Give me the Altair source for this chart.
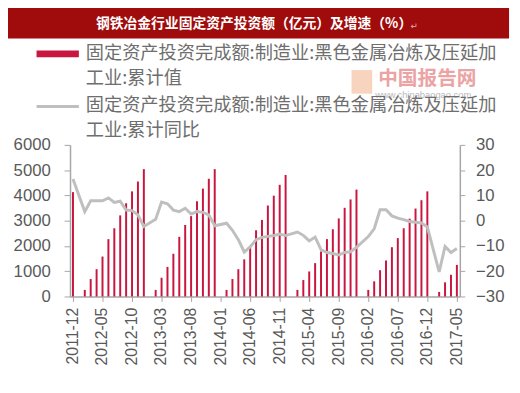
import altair as alt
import pandas as pd

# ---------------- data ----------------
years = [2012, 2013, 2014, 2015, 2016]
months = ["2011-12"] + [f"{y}-{m:02d}" for y in years for m in range(1, 13)] + [f"2017-{m:02d}" for m in range(1, 6)]

tick_labels = ["2011-12", "2012-05", "2012-10", "2013-03", "2013-08", "2014-01", "2014-06",
               "2014-11", "2015-04", "2015-09", "2016-02", "2016-07", "2016-12", "2017-05"]

# 累计值 (亿元); January not published
invest = [4130,
          None, 260, 690, 1080, 1580, 2270, 2700, 3210, 3690, 4160, 4550, 5040,
          None, 260, 740, 1170, 1690, 2360, 2830, 3180, 3770, 4270, 4660, 5040,
          None, 260, 690, 1080, 1470, 1990, 2620, 3030, 3600, 3990, 4420, 4810,
          None, 260, 650, 990, 1320, 1780, 2270, 2660, 3090, 3510, 3840, 4230,
          None, 260, 600, 1040, 1420, 1950, 2310, 2700, 3080, 3480, 3810, 4160,
          None, 180, 560, 860, 1250]

# 累计同比 (%)
yoy = [16.5,
       None, 3.6, 7.9, 7.9, 7.9, 9.0, 7.2, 7.7, 4.2, 4.0, 2.3, -2.3,
       None, 0.6, 7.4, 6.7, 4.2, 3.6, 4.9, 2.6, 3.6, 3.3, 2.3, -2.0,
       None, -1.0, -3.8, -7.5, -12.4, -10.4, -7.5, -6.6, -6.2, -5.9, -5.3, -5.9,
       None, -4.5, -5.8, -8.0, -6.5, -11.5, -12.6, -13.0, -13.6, -12.6, -12.3, -10.6,
       None, -6.3, -3.2, 4.3, 4.3, 1.9, 1.0, 0.4, -0.3, -0.6, -0.9, -2.5,
       None, -20.3, -10.2, -12.6, -11.0]

title_text = "钢铁冶金行业固定资产投资额（亿元）及增速（%）"
legend_bar = ["固定资产投资完成额:制造业:黑色金属冶炼及压延加", "工业:累计值"]
legend_line = ["固定资产投资完成额:制造业:黑色金属冶炼及压延加", "工业:累计同比"]

df = pd.DataFrame({"month": months, "value": invest, "yoy": yoy})

# ---------------- layout ----------------
W, H = 396, 154
PL, PT = 63, 136
PR = 520 - 8 - PL - W
PB = 393 - 8 - PT - H

AX_COLOR = "#A6A6A6"
LBL_COLOR = "#595959"
BAR_COLOR = "#C8163F"
LINE_COLOR = "#BFBFBF"
CJK = "Noto Sans CJK SC"

x_enc = alt.X("month:O",
              scale=alt.Scale(domain=months, paddingInner=0, paddingOuter=0),
              sort=months,
              axis=alt.Axis(values=tick_labels, labelAngle=-90, title=None,
                            labelFont="Liberation Sans", labelFontSize=16, labelColor=LBL_COLOR,
                            domainColor=AX_COLOR, tickColor=AX_COLOR, tickSize=5,
                            labelPadding=6, grid=False, domainWidth=1.5))

bars = alt.Chart(df).transform_filter("isValid(datum.value)").mark_bar(
    size=2, color=BAR_COLOR).encode(
    x=x_enc,
    y=alt.Y("value:Q",
            scale=alt.Scale(domain=[0, 6000], nice=False),
            axis=alt.Axis(orient="left", values=[0, 1000, 2000, 3000, 4000, 5000, 6000],
                          format="d", title=None, grid=False, labelFont="Liberation Sans",
                          labelFontSize=17, labelColor=LBL_COLOR, domainColor=AX_COLOR,
                          tickColor=AX_COLOR, tickSize=6, labelPadding=14, domainWidth=1.5)))

line = alt.Chart(df).transform_filter("isValid(datum.yoy)").mark_line(
    color=LINE_COLOR, strokeWidth=3).encode(
    x=x_enc,
    y=alt.Y("yoy:Q",
            scale=alt.Scale(domain=[-30, 30], nice=False),
            axis=alt.Axis(orient="right", values=[-30, -20, -10, 0, 10, 20, 30],
                          format="d", title=None, grid=False, labelFont="Liberation Sans",
                          labelFontSize=17, labelColor=LBL_COLOR, domainColor=AX_COLOR,
                          tickColor=AX_COLOR, tickSize=5, labelPadding=11, domainWidth=1.5)))

one = pd.DataFrame({"k": [0]})

def px(page_x):
    return page_x - 8 - PL

def py(page_y):
    return page_y - 8 - PT

banner = alt.Chart(one).mark_rect(color="#A00C0C").encode(
    x=alt.value(px(3)), x2=alt.value(px(517)), y=alt.value(py(3)), y2=alt.value(py(36)))

title = alt.Chart(pd.DataFrame({"t": [title_text]})).mark_text(
    font=CJK, fontSize=14, fontWeight="bold", color="white", align="center", baseline="middle"
).encode(x=alt.value(px(258)), y=alt.value(py(21)), text="t:N")

retmark = alt.Chart(pd.DataFrame({"t": ["↵"]})).mark_text(
    font="DejaVu Sans", fontSize=9, color="#E3A9A9", align="left", baseline="middle"
).encode(x=alt.value(px(417)), y=alt.value(py(23)), text="t:N")

# watermark
logo = alt.Chart(one).mark_rect(color="#F0A070", opacity=0.45).encode(
    x=alt.value(px(357)), x2=alt.value(px(378)), y=alt.value(py(68)), y2=alt.value(py(92)))
wm1 = alt.Chart(pd.DataFrame({"t": ["中国报告网"]})).mark_text(
    font=CJK, fontSize=20, fontWeight="bold", color="#EBA3A3", align="left", baseline="middle"
).encode(x=alt.value(px(384)), y=alt.value(py(77)), text="t:N")
wm2 = alt.Chart(pd.DataFrame({"t": ["www.chinabaogao.com"]})).mark_text(
    font="Liberation Sans", fontSize=9.5, color="#B8B8B8", align="left", baseline="middle"
).encode(x=alt.value(px(381)), y=alt.value(py(93)), text="t:N")

# legend
leg_rect = alt.Chart(one).mark_rect(color=BAR_COLOR).encode(
    x=alt.value(px(37)), x2=alt.value(px(80)), y=alt.value(py(48)), y2=alt.value(py(55)))
leg_line = alt.Chart(one).mark_rule(color=LINE_COLOR, strokeWidth=3).encode(
    x=alt.value(px(37)), x2=alt.value(px(80)), y=alt.value(py(105)))

def leg_text(s, page_y):
    return alt.Chart(pd.DataFrame({"t": [s]})).mark_text(
        font=CJK, fontSize=18.5, color="#6E6E6E", align="left", baseline="middle"
    ).encode(x=alt.value(px(87)), y=alt.value(py(page_y)), text="t:N")

lt1 = leg_text(legend_bar[0], 51)
lt2 = leg_text(legend_bar[1], 76)
lt3 = leg_text(legend_line[0], 104)
lt4 = leg_text(legend_line[1], 129)

main = alt.layer(bars, line).resolve_scale(y="independent")

chart = alt.layer(
    main, banner, title, retmark, logo, wm1, wm2, leg_rect, leg_line, lt1, lt2, lt3, lt4
).properties(
    width=W, height=H,
    autosize=alt.AutoSizeParams(type="none"),
    padding={"left": PL, "top": PT, "right": PR, "bottom": PB},
    background="white",
).configure_view(stroke=None)

chart.save("out.html", embed_options={"renderer": "svg", "actions": False})
